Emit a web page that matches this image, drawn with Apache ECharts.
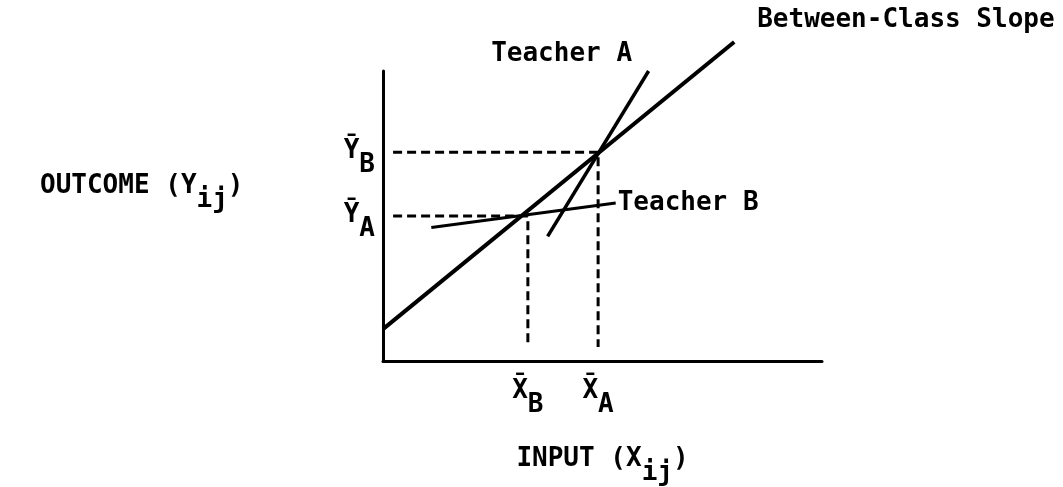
<!DOCTYPE html>
<html>
<head>
<meta charset="utf-8">
<script src="https://cdn.jsdelivr.net/npm/echarts@6/dist/echarts.min.js"></script>
<style>
html, body {margin: 0; background: #fff;}
#chart {width: 1063px; height: 487px;}
</style>
</head>
<body>
<div id="chart"></div>
<script>
// class means (abstract units, 0..100 on both axes)
var meanX = [33, 49];          // X̄B, X̄A
var meanXNames = ['B', 'A'];
var meanY = [50, 72];          // ȲA, ȲB
var meanYNames = ['A', 'B'];

// regression lines, [x, y] end points
var betweenLine = [[0, 11], [80, 110]];
var teacherALine = [[37.5, 43], [60.5, 100]];
var teacherBLine = [[11, 46], [53, 54.5]];

var FONT = 'DejaVu Sans Mono';
var SIZE = 26;

// main text lifted a little, subscript pushed down via padding
var rich = {
    m: {fontFamily: FONT, fontSize: SIZE, fontWeight: 'bold', color: '#000', lineHeight: 28, padding: [0, 0, 2, 0]},
    s: {fontFamily: FONT, fontSize: SIZE, fontWeight: 'bold', color: '#000', lineHeight: 28, padding: [26, 0, 0, 0]}
};

function withEndLabel(points, text, label) {
    return points.map(function (p, i) {
        if (i !== points.length - 1) return p;
        return {
            value: p,
            label: Object.assign({
                show: true,
                formatter: text,
                fontFamily: FONT,
                fontSize: SIZE,
                fontWeight: 'bold',
                color: '#000'
            }, label)
        };
    });
}

function solidSeries(points, width, text, label) {
    return {
        type: 'line',
        data: withEndLabel(points, text, label),
        symbol: 'circle',
        symbolSize: 0,
        clip: false,
        lineStyle: {color: '#000', width: width},
        itemStyle: {color: '#000'},
        silent: true
    };
}

function dashedSeries(points) {
    return {
        type: 'line',
        data: points,
        showSymbol: false,
        clip: false,
        lineStyle: {color: '#000', width: 3, type: [9, 5]},
        silent: true
    };
}

var chart = echarts.init(document.getElementById('chart'));
var option = {
    animation: false,
    backgroundColor: '#fff',
    grid: {left: 383, top: 71, right: 241, bottom: 126, outerBoundsMode: 'none'},
    xAxis: {
        type: 'value',
        min: 0,
        max: 100,
        splitLine: {show: false},
        axisTick: {show: false},
        axisLine: {show: true, lineStyle: {color: '#000', width: 3}},
        axisLabel: {
            customValues: meanX,
            margin: 17,
            formatter: function (v) {
                return '{m|X\u0304}{s|' + meanXNames[meanX.indexOf(v)] + '}';
            },
            rich: rich
        },
        name: '{m|INPUT (X}{s|ij}{m|)}',
        nameLocation: 'middle',
        nameGap: 85,
        nameTextStyle: {rich: rich}
    },
    yAxis: {
        type: 'value',
        min: 0,
        max: 100,
        splitLine: {show: false},
        axisTick: {show: false},
        axisLine: {show: true, lineStyle: {color: '#000', width: 3}},
        axisLabel: {
            customValues: meanY,
            margin: 8,
            formatter: function (v) {
                return '{m|\u0232}{s|' + meanYNames[meanY.indexOf(v)] + '}';
            },
            rich: rich
        }
    },
    graphic: [{
        type: 'text',
        left: 40,
        top: 161,
        style: {
            text: '{m|OUTCOME (Y}{s|ij}{m|)}',
            rich: rich
        }
    }],
    series: [
        dashedSeries([[2.3, meanY[1]], [meanX[1], meanY[1]], [meanX[1], 4.8]]),
        dashedSeries([[2.3, meanY[0]], [meanX[0], meanY[0]], [meanX[0], 4.8]]),
        solidSeries(betweenLine, 4, 'Between-Class Slope', {position: 'right', distance: 23, offset: [0, -22]}),
        solidSeries(teacherALine, 3.5, 'Teacher A', {position: 'top', distance: 4, offset: [-87, 0]}),
        solidSeries(teacherBLine, 3, 'Teacher B', {position: 'right', distance: 2})
    ]
};
chart.setOption(option);
</script>
</body>
</html>
